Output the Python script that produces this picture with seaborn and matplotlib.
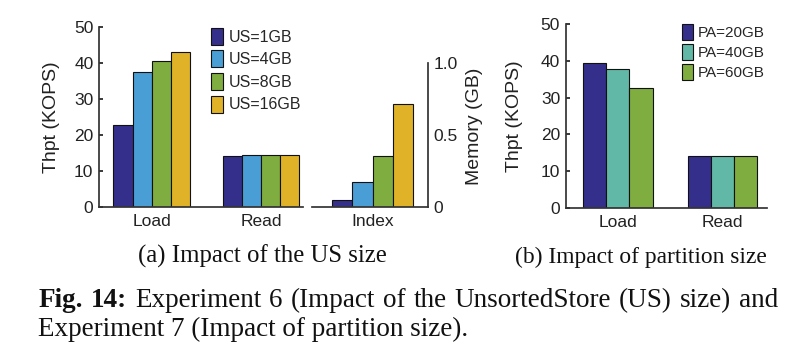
import matplotlib
matplotlib.use("Agg")
import matplotlib.pyplot as plt
import pandas as pd
import seaborn as sns
from matplotlib.patches import Patch

# --- data ---
ops = ["Load", "Read"]
us_sizes = ["US=1GB", "US=4GB", "US=8GB", "US=16GB"]
us_load = [22.7, 37.5, 40.5, 43.0]
us_read = [14.2, 14.4, 14.4, 14.4]
us_index_mem = [0.05, 0.175, 0.35, 0.715]

pa_sizes = ["PA=20GB", "PA=40GB", "PA=60GB"]
pa_load = [39.4, 37.7, 32.6]
pa_read = [14.1, 14.2, 14.0]

US_COLORS = dict(zip(us_sizes, ["#352f8c", "#4a9ed6", "#80ad40", "#e0b228"]))
PA_COLORS = dict(zip(pa_sizes, ["#352f8c", "#62b8a6", "#80ad40"]))

TXT = "#222222"
SERIF = ["Liberation Serif", "DejaVu Serif"]


def _setup() -> None:
    sns.set_theme(style="ticks")
    plt.rcParams["font.family"] = ["Liberation Sans", "DejaVu Sans"]
    plt.rcParams["axes.edgecolor"] = "#333333"
    plt.rcParams["xtick.color"] = TXT
    plt.rcParams["ytick.color"] = TXT
    plt.rcParams["axes.labelcolor"] = TXT
    plt.rcParams["xtick.labelsize"] = 12.5
    plt.rcParams["ytick.labelsize"] = 12.5


def _legend(ax, palette, anchor, fs, hl, hh, spacing, pad):
    handles = [Patch(facecolor=c, edgecolor="#111111", linewidth=0.8, label=k)
               for k, c in palette.items()]
    ax.legend(handles=handles, loc="upper left", bbox_to_anchor=anchor,
              bbox_transform=ax.figure.transFigure, frameon=False,
              handlelength=hl, handleheight=hh, handletextpad=pad,
              labelspacing=spacing, borderpad=0, borderaxespad=0, fontsize=fs)


def _justified(fig, words, x0, x1, y, fs, r):
    """Lay out (text, weight) words so the line runs from x0 to x1 pixels."""
    arts = [fig.text(0, y, w, family=SERIF, fontweight=wt, fontsize=fs,
                     va="baseline", color="#111111") for w, wt in words]
    widths = [a.get_window_extent(r).width for a in arts]
    gap = (x1 - x0 - sum(widths)) / (len(arts) - 1)
    x = x0
    for a, w in zip(arts, widths):
        a.set_x(x / 806)
        x += w + gap


_setup()
fig = plt.figure(figsize=(8.06, 3.64), dpi=100)

# (a) throughput vs US size
us_df = pd.DataFrame({
    "op": [o for o in ops for _ in us_sizes],
    "us": us_sizes * len(ops),
    "thpt": us_load + us_read,
})
ax_a = fig.add_axes([99 / 806, 1 - 207.3 / 364, 204 / 806, 180.6 / 364])
sns.barplot(data=us_df, x="op", y="thpt", hue="us", palette=US_COLORS,
            width=0.7, gap=0, saturation=1, edgecolor="#111111", linewidth=0.8,
            legend=False, ax=ax_a)
ax_a.set_xlim(-0.482, 1.384)
ax_a.set_ylim(0, 50)
ax_a.set_yticks([0, 10, 20, 30, 40, 50])
ax_a.set_xlabel("")
ax_a.set_ylabel("Thpt (KOPS)", fontsize=14)
ax_a.yaxis.set_label_coords(-0.19, 0.5)
ax_a.tick_params(axis="y", direction="in", length=3, pad=4)
ax_a.tick_params(axis="x", length=0, pad=5)
sns.despine(ax=ax_a)
_legend(ax_a, US_COLORS, (211 / 806, 1 - 27.7 / 364), 11.5, 0.73, 1.25, 0.36, 0.39)

# (a) index memory
idx_df = pd.DataFrame({"part": ["Index"] * len(us_sizes), "us": us_sizes,
                       "mem": us_index_mem})
ax_i = fig.add_axes([312 / 806, 1 - 206.7 / 364, 116 / 806, 144 / 364])
sns.barplot(data=idx_df, x="part", y="mem", hue="us", palette=US_COLORS,
            width=0.8, gap=0, saturation=1, edgecolor="#111111", linewidth=0.8,
            legend=False, ax=ax_i)
ax_i.set_xlim(-0.60, 0.546)
ax_i.set_ylim(0, 1.0)
ax_i.yaxis.tick_right()
ax_i.yaxis.set_label_position("right")
ax_i.set_yticks([0, 0.5, 1.0])
ax_i.set_yticklabels(["0", "0.5", "1.0"])
ax_i.set_xlabel("")
ax_i.set_ylabel("Memory (GB)", fontsize=14, rotation=90)
ax_i.yaxis.set_label_coords(1.33, 0.56)
ax_i.tick_params(axis="y", direction="in", length=3, pad=4)
ax_i.tick_params(axis="x", length=0, pad=5)
sns.despine(ax=ax_i, left=True, right=False)

# (b) throughput vs partition size
pa_df = pd.DataFrame({
    "op": [o for o in ops for _ in pa_sizes],
    "pa": pa_sizes * len(ops),
    "thpt": pa_load + pa_read,
})
ax_b = fig.add_axes([565.7 / 806, 1 - 207.7 / 364, 201.3 / 806, 183.4 / 364])
sns.barplot(data=pa_df, x="op", y="thpt", hue="pa", palette=PA_COLORS,
            width=0.666, gap=0, saturation=1, edgecolor="#111111", linewidth=0.8,
            legend=False, ax=ax_b)
ax_b.set_xlim(-0.498, 1.425)
ax_b.set_ylim(0, 50)
ax_b.set_yticks([0, 10, 20, 30, 40, 50])
ax_b.set_xlabel("")
ax_b.set_ylabel("Thpt (KOPS)", fontsize=14)
ax_b.yaxis.set_label_coords(-0.21, 0.5)
ax_b.tick_params(axis="y", direction="in", length=3, pad=4)
ax_b.tick_params(axis="x", length=0, pad=5)
sns.despine(ax=ax_b)
_legend(ax_b, PA_COLORS, (682 / 806, 1 - 24 / 364), 11, 0.72, 1.22, 0.26, 0.28)

# captions
fig.text(262 / 806, 1 - 262.7 / 364, "(a) Impact of the US size", family=SERIF,
         fontsize=17.8, ha="center", va="baseline", color="#111111")
fig.text(640.5 / 806, 1 - 262.7 / 364, "(b) Impact of partition size", family=SERIF,
         fontsize=16.9, ha="center", va="baseline", color="#111111")

fig.canvas.draw()
r = fig.canvas.get_renderer()
line1 = [("Fig.", "bold"), ("14:", "bold")] + [
    (w, "normal") for w in
    "Experiment 6 (Impact of the UnsortedStore (US) size) and".split()]
_justified(fig, line1, 38.3, 778, 1 - 306.7 / 364, 19.5, r)
fig.text(38.3 / 806, 1 - 336 / 364, "Experiment 7 (Impact of partition size).",
         family=SERIF, fontsize=19.5, va="baseline", color="#111111")

fig.savefig("out.png", dpi=100)
